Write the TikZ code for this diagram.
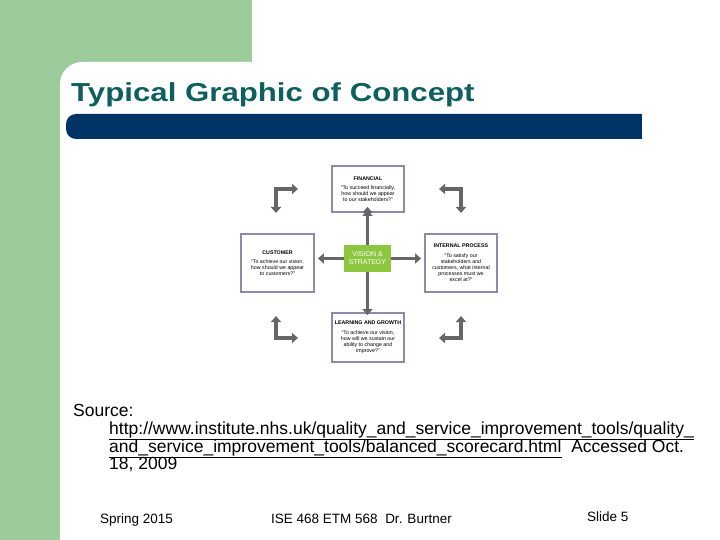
\documentclass[tikz,border=0pt]{standalone}
\usepackage{fontspec}
\setmainfont{Liberation Sans}
\usetikzlibrary{arrows.meta}
\definecolor{sgreen}{HTML}{9DCC9C}
\definecolor{navy}{HTML}{003366}
\definecolor{teal}{HTML}{0E6060}
\definecolor{boxb}{HTML}{8E8AA8}
\definecolor{vgreen}{HTML}{8DC63F}
\definecolor{arr}{HTML}{666666}
\tikzset{
 pbox/.style={draw=boxb,line width=1.8pt,fill=white,inner sep=1pt,align=center,font=\fontsize{5.3}{6.2}\selectfont},
 garr/.style={draw=arr,line width=3.6pt,-{Triangle[length=6pt,width=10pt]}},
 garr2/.style={draw=arr,line width=3.6pt,{Triangle[length=6pt,width=10pt]}-{Triangle[length=6pt,width=10pt]}}
}
\begin{document}
\begin{tikzpicture}[x=1pt,y=-1pt]
\useasboundingbox (0,0) rectangle (720,540);
\fill[white] (0,0) rectangle (720,540);
\fill[sgreen] (0,0) rectangle (252,540);
\fill[white,rounded corners=22pt] (60,62) -- (60,560) -- (740,560) -- (740,62) -- cycle;
\fill[white] (100,62) rectangle (720,540);
\fill[white] (60,120) rectangle (720,540);
\node[anchor=base west,text=teal,font=\bfseries\fontsize{26}{30}\selectfont,inner sep=0,xscale=1.2] (title) at (71,102) {Typical Graphic of Concept};
\fill[navy,rounded corners=10pt] (66,114) rectangle (660,139);
\fill[navy] (630,114) rectangle (642,139);
\fill[white] (642,110) rectangle (670,143);
% diagram
\node[pbox,minimum width=72pt,minimum height=46pt] (fin) at (368,189) {\textbf{FINANCIAL}\\[3pt]``To succeed financially,\\how should we appear\\to our stakeholders?''};
\node[pbox,minimum width=73pt,minimum height=58pt] (cus) at (277.5,263) {\textbf{CUSTOMER}\\[3pt]``To achieve our vision,\\how should we appear\\to customers?''};
\node[pbox,minimum width=72pt,minimum height=58pt] (int) at (461,263) {\textbf{INTERNAL PROCESS}\\[3pt]``To satisfy our\\stakeholders and\\customers, what internal\\processes must we\\excel at?''};
\node[pbox,minimum width=72pt,minimum height=49pt] (lea) at (368,337.5) {\textbf{LEARNING AND GROWTH}\\[3pt]``To achieve our vision,\\how will we sustain our\\ability to change and\\improve?''};
\node[fill=vgreen,text=white,minimum width=47pt,minimum height=27pt,align=center,font=\fontsize{7}{8}\selectfont,inner sep=0] (vis) at (367.5,258.5) {VISION \&\\STRATEGY};
\draw[garr] (vis.north) -- (vis.north |- fin.south) ++(0,6pt);
\draw[garr] (vis.north) -- ([yshift=3pt]vis.north |- fin.south);
\draw[garr] (vis.south) -- ([yshift=-3pt]vis.south |- lea.north);
\draw[garr] (vis.west) -- ([xshift=3pt]vis.west -| cus.east);
\draw[garr] (vis.east) -- ([xshift=-3pt]vis.east -| int.west);
\coordinate (tl1) at (276,213); \coordinate (tl2) at (298,189);
\draw[garr2] (tl1) -- (276,189) -- (tl2);
\coordinate (tr1) at (439,189); \coordinate (tr2) at (461,213);
\draw[garr2] (tr1) -- (461,189) -- (tr2);
\coordinate (bl1) at (276,316); \coordinate (bl2) at (298,338);
\draw[garr2] (bl1) -- (276,338) -- (bl2);
\coordinate (br1) at (461,316); \coordinate (br2) at (439,338);
\draw[garr2] (br1) -- (461,338) -- (br2);
% source
\node[anchor=base west,inner sep=0,font=\fontsize{17.5}{18}\selectfont] (src) at (73,416) {Source:};
\node[anchor=base west,inner sep=0,font=\fontsize{17.5}{18}\selectfont] (l1) at (109,434) {\underline{http://www.institute.nhs.uk/quality\_and\_service\_improvement\_tools/quality\_}};
\node[anchor=base west,inner sep=0,font=\fontsize{17.5}{18}\selectfont] (l2) at (109,452) {\underline{and\_service\_improvement\_tools/balanced\_scorecard.html} \ Accessed Oct.};
\node[anchor=base west,inner sep=0,font=\fontsize{17.5}{18}\selectfont] (l3) at (109,469) {18, 2009};
\node[anchor=base west,inner sep=0,font=\fontsize{13.5}{16}\selectfont] (f1) at (100,523) {Spring 2015};
\node[anchor=base west,inner sep=0,font=\fontsize{13.5}{16}\selectfont] (f2) at (271,523) {ISE 468 ETM 568 \ Dr. Burtner};
\node[anchor=base west,inner sep=0,font=\fontsize{13.5}{16}\selectfont] (f3) at (587,521) {Slide 5};
\end{tikzpicture}
\end{document}
